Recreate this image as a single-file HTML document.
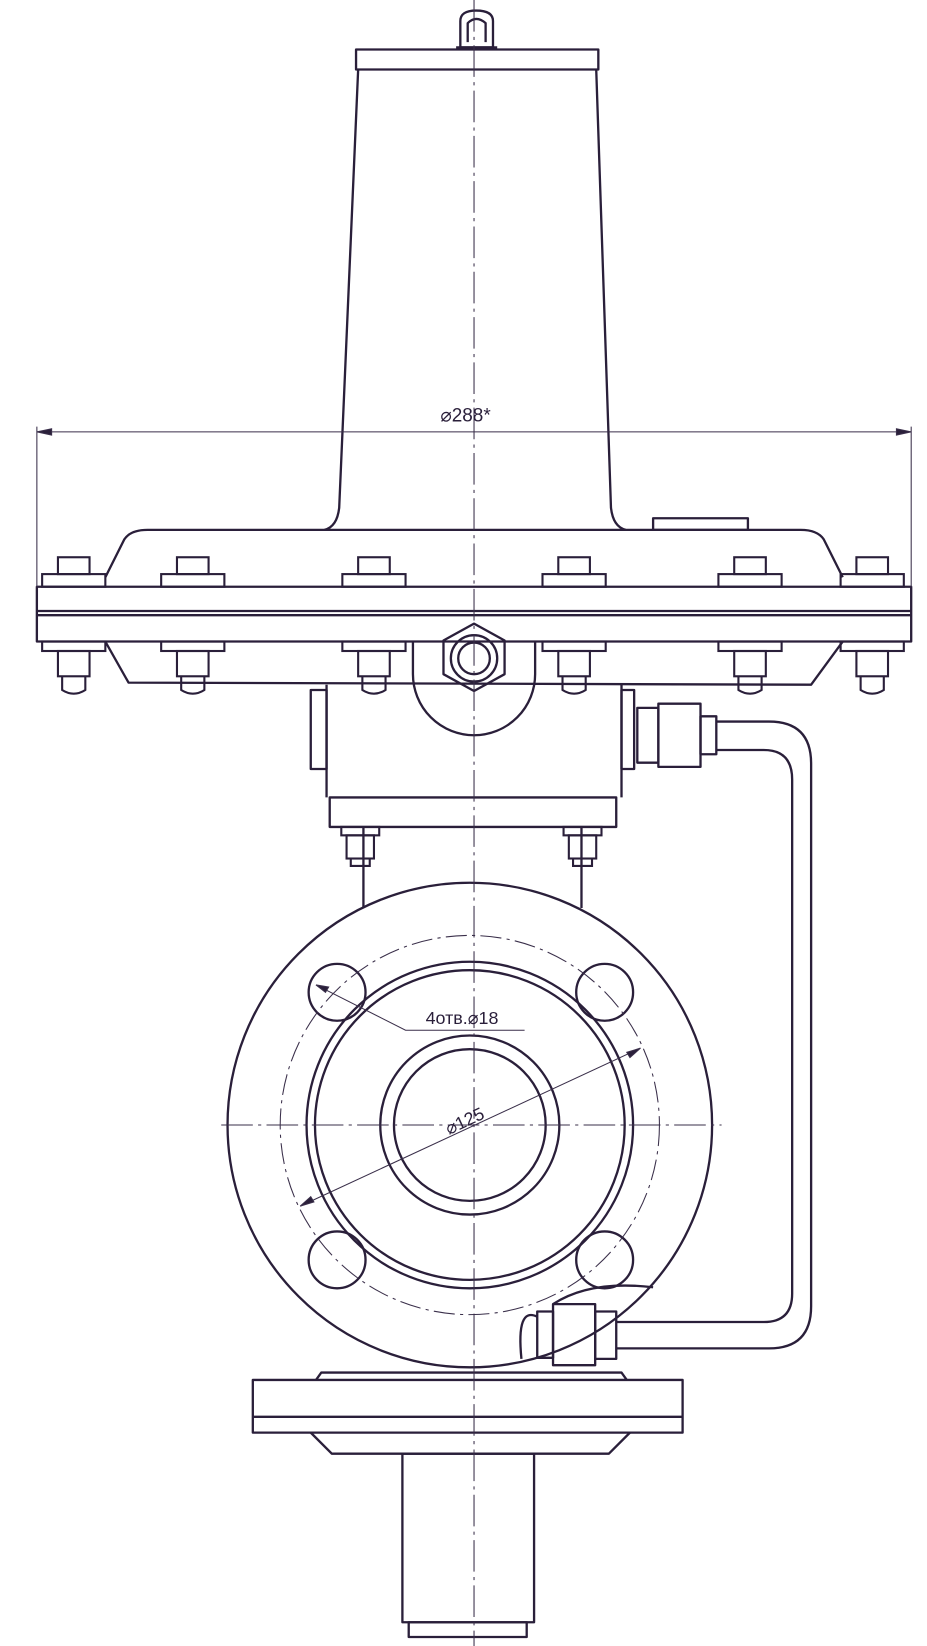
<!DOCTYPE html>
<html><head><meta charset="utf-8"><style>
html,body{margin:0;padding:0;background:#fff;}
svg{display:block}
text{font-family:"Liberation Sans",sans-serif;fill:#2a1f3a;}
</style></head><body>
<svg width="927" height="1646" viewBox="0 0 927 1646" xmlns="http://www.w3.org/2000/svg">
<defs>
<g id="bolt">
<rect x="-15" y="529" width="30" height="16"/>
<rect x="-30" y="545" width="60" height="12"/>
<rect x="-30" y="609" width="60" height="9"/>
<rect x="-15" y="618" width="30" height="24"/>
<path d="M-11,642 L-11,655 Q0,662 11,655 L11,642"/>
</g>
</defs>
<g transform="scale(1.0534)">
<g fill="none" stroke="#2a1f3a" stroke-width="2.2" stroke-linejoin="round">
<path d="M437,45 L437,20 Q437,10 452,10 Q468,10 468,20 L468,45 Z"/>
<path d="M444,40 L444,22 Q452,14 461,22 L461,40"/>
<path d="M433,45 L472,45"/>
<rect x="338" y="47" width="230" height="19"/>
<path d="M340,66 L322,482 Q320,500 308,503"/>
<path d="M566,66 L580,482 Q582,500 594,503"/>
<path d="M100,548 L118,512 Q124,503 140,503 L760,503 Q776,503 782,512 L800,548"/>
<rect x="620" y="492" width="90" height="11"/>
<rect x="35" y="557" width="830" height="52"/>
<line x1="35" y1="580" x2="865" y2="580"/>
<line x1="35" y1="584" x2="865" y2="584"/>
<path d="M100,609 L122,648 L770,650 L800,609"/>
<path d="M392,609 L392,640 A58,58 0 0 0 508,640 L508,609"/>
<polygon points="450,592 479,608 479,640 450,656 421,640 421,608"/>
<circle cx="450" cy="625" r="22"/>
<circle cx="450" cy="625" r="15"/>
<path d="M310,650 L310,757 M590,650 L590,757"/>
<rect x="295" y="655" width="15" height="75"/>
<rect x="590" y="655" width="12" height="75"/>
<rect x="313" y="757" width="272" height="28"/>
<path d="M345,785 L345,862 M552,785 L552,862"/>
<circle cx="446" cy="1068" r="230"/>
<circle cx="446" cy="1068" r="155"/>
<circle cx="446" cy="1068" r="147"/>
<circle cx="446" cy="1068" r="85"/>
<circle cx="446" cy="1068" r="72"/>
<circle cx="320" cy="942" r="27"/>
<circle cx="574" cy="942" r="27"/>
<circle cx="320" cy="1196" r="27"/>
<circle cx="574" cy="1196" r="27"/>
<path d="M680,685 L730,685 Q770,685 770,725 L770,1240 Q770,1280 730,1280 L585,1280"/>
<path d="M680,712 L725,712 Q752,712 752,740 L752,1228 Q752,1255 725,1255 L585,1255"/>
<rect x="605" y="672" width="20" height="52"/>
<rect x="625" y="668" width="40" height="60"/>
<rect x="665" y="680" width="15" height="36"/>
<rect x="565" y="1245" width="20" height="45"/>
<rect x="525" y="1238" width="40" height="58"/>
<rect x="510" y="1245" width="15" height="44"/>
<path d="M510,1250 Q490,1240 495,1290"/>
<path d="M525,1238 Q560,1215 620,1222"/>
<path d="M300,1310 L305,1303 L590,1303 L595,1310"/>
<rect x="240" y="1310" width="408" height="50"/>
<line x1="240" y1="1345" x2="648" y2="1345"/>
<path d="M295,1360 L315,1380 L578,1380 L598,1360"/>
<rect x="382" y="1380" width="125" height="160"/>
<rect x="388" y="1540" width="112" height="14"/>
</g>
<g fill="none" stroke="#2a1f3a" stroke-width="2">
<use href="#bolt" x="70"/><use href="#bolt" x="183"/><use href="#bolt" x="355"/>
<use href="#bolt" x="545"/><use href="#bolt" x="712"/><use href="#bolt" x="828"/>
<g transform="translate(342,0)"><rect x="-18" y="785" width="36" height="8"/><rect x="-13" y="793" width="26" height="22"/><path d="M-9,815 L-9,822 L9,822 L9,815"/></g>
<g transform="translate(553,0)"><rect x="-18" y="785" width="36" height="8"/><rect x="-13" y="793" width="26" height="22"/><path d="M-9,815 L-9,822 L9,822 L9,815"/></g>
</g>
<g fill="none" stroke="#3a2f4a" stroke-width="1">
<line x1="450" y1="0" x2="450" y2="1565" stroke-dasharray="30,5,3,5"/>
<line x1="210" y1="1068" x2="685" y2="1068" stroke-dasharray="30,5,3,5"/>
<circle cx="446" cy="1068" r="180" stroke-dasharray="20,5,3,5"/>
<line x1="35" y1="405" x2="35" y2="557"/>
<line x1="865" y1="405" x2="865" y2="557"/>
<line x1="35" y1="410" x2="865" y2="410"/>
<path d="M35,410 l14,-3 v6 z M865,410 l-14,-3 v6 z" fill="#2a1f3a"/>
<line x1="285" y1="1145" x2="608" y2="995"/>
<path d="M285,1145 l10,-9 l3,5 z M608,995 l-10,9 l-3,-5 z" fill="#2a1f3a"/>
<path d="M300,935 L385,978 L498,978"/>
<path d="M300,935 l12,2 l-3,5 z" fill="#2a1f3a"/>
</g>
<text x="418" y="400" font-size="18">⌀288*</text>
<text x="404" y="972" font-size="17">4отв.⌀18</text>
<text x="420" y="1070" font-size="17" transform="rotate(-25 440 1060)">⌀125</text>
</g>
</svg>
</body></html>
